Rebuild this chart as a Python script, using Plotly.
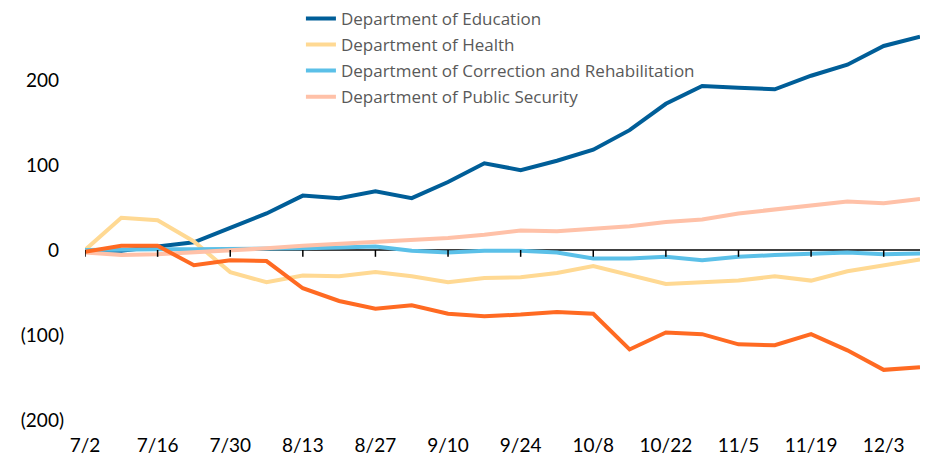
import plotly.graph_objects as go

dates = ["7/2", "7/9", "7/16", "7/23", "7/30", "8/6", "8/13", "8/20", "8/27", "9/3",
         "9/10", "9/17", "9/24", "10/1", "10/8", "10/15", "10/22", "10/29", "11/5",
         "11/12", "11/19", "11/26", "12/3", "12/10"]

education = [0, -1, 4, 9, 26, 43, 64, 61, 69, 61, 80, 102, 94, 105, 118, 141, 172,
             193, 191, 189, 205, 218, 240, 251]
health = [0, 38, 35, 10, -26, -38, -30, -31, -26, -31, -38, -33, -32, -27, -19, -30,
          -40, -38, -36, -31, -36, -25, -18, -11]
correction = [0, 1, 1, 1, 1, 1, 2, 3, 4, -1, -3, -1, -1, -3, -10, -10, -8, -12, -8,
              -6, -5, -3, -5, -4]
public_security = [-3, -6, -5, -3, 0, 2, 5, 7, 9, 11, 14, 18, 23, 22, 25, 28, 33, 36,
                   43, 48, 53, 57, 55, 60]
other = [-2, 5, 5, -18, -12, -13, -45, -60, -69, -65, -75, -78, -76, -73, -75, -117,
         -97, -99, -111, -112, -99, -118, -141, -138]

x_ticks = ["7/2", "7/16", "7/30", "8/13", "8/27", "9/10", "9/24", "10/8", "10/22",
           "11/5", "11/19", "12/3"]
y_ticks = [-200, -100, 0, 100, 200]
y_ticktext = ["(200)", "(100)", "0\u00a0", "100\u00a0", "200\u00a0"]

series = [
    ("Department of Education", education, "#005E98", True),
    ("Department of Health", health, "#FFD993", True),
    ("Department of Correction and Rehabilitation", correction, "#5BC0E8", True),
    ("Department of Public Security", public_security, "#FFC1A8", True),
    ("Other", other, "#FF6A22", False),
]

fig = go.Figure()
for i, (name, vals, color, show) in enumerate(series):
    fig.add_trace(go.Scatter(
        x=dates, y=vals, name=name, mode="lines",
        line=dict(color=color, width=4),
        showlegend=show, legendgroup=f"g{i}",
        cliponaxis=False,
    ))

# tick marks on the zero axis line
shapes = []
for t in x_ticks:
    idx = dates.index(t)
    shapes.append(dict(type="line", xref="x", yref="y", x0=idx, x1=idx, y0=0, y1=-8,
                       line=dict(color="black", width=1.5), layer="above"))
shapes.append(dict(type="line", xref="x", yref="y", x0=0, x1=len(dates) - 1 + 0.1,
                   y0=0, y1=0, line=dict(color="black", width=1.6), layer="below"))

fig.update_layout(
    width=928, height=454,
    margin=dict(l=77, r=16, t=21, b=42, autoexpand=False),
    paper_bgcolor="white", plot_bgcolor="white",
    font=dict(family="Lato, Carlito, sans-serif", size=19, color="black"),
    shapes=shapes,
    showlegend=True,
    legend=dict(
        x=0.2586, y=1.072, xanchor="left", yanchor="top",
        font=dict(family="Open Sans, sans-serif", size=17, color="#595959"),
        tracegroupgap=1, bgcolor="rgba(0,0,0,0)",
    ),
    xaxis=dict(
        type="category", range=[0, len(dates) - 1],
        tickmode="array", tickvals=x_ticks, ticktext=x_ticks,
        showgrid=False, zeroline=False, showline=False, ticks="",
        ticklabelstandoff=12,
    ),
    yaxis=dict(
        range=[-200, 260], tickmode="array", tickvals=y_ticks, ticktext=y_ticktext,
        showgrid=False, zeroline=False, showline=False, ticks="",
        ticklabelstandoff=20,
    ),
)

fig.write_html("out.html")
